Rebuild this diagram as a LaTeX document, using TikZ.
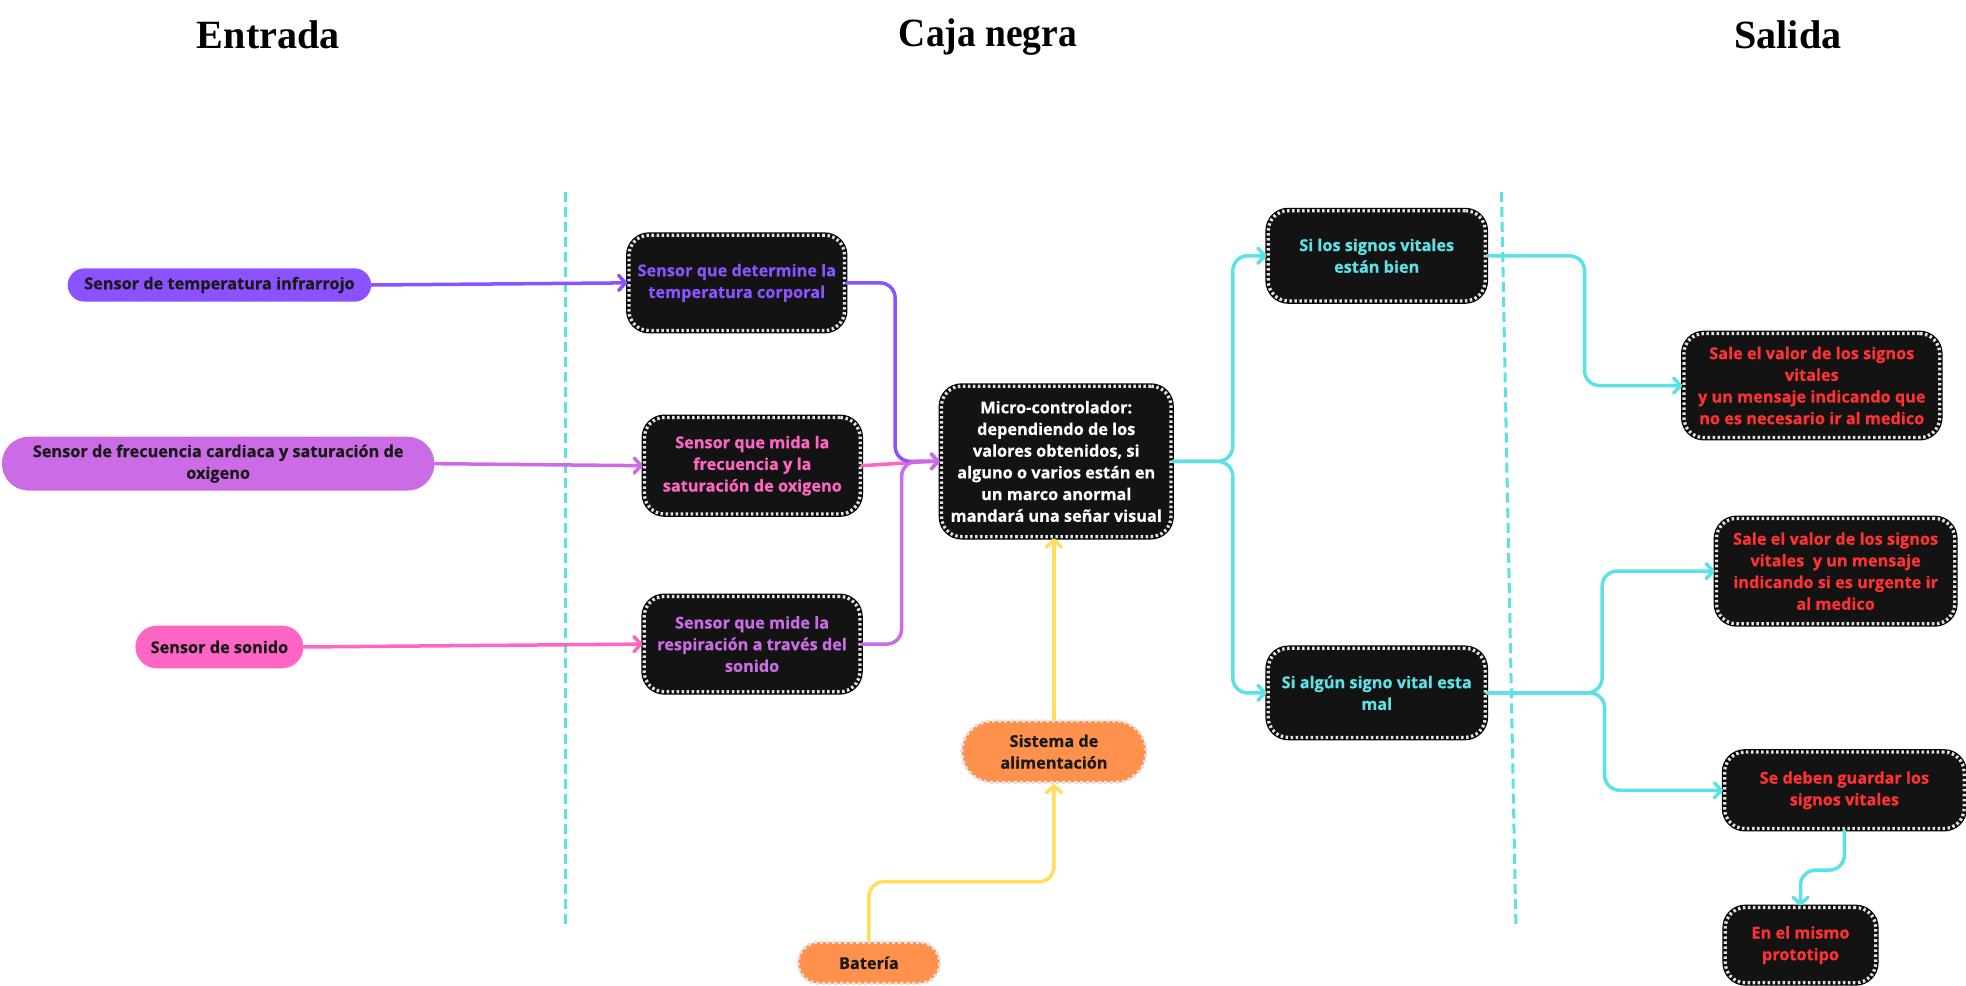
\documentclass[tikz,border=0pt]{standalone}
\usepackage{fontspec}
\usetikzlibrary{arrows.meta}
\newfontfamily\osans{Open Sans}[BoldFeatures={FakeBold=0.6}]
\newfontfamily\hdrfont{Liberation Serif}
\definecolor{dk}{HTML}{131313}
\definecolor{pur}{HTML}{8C52FF}
\definecolor{lav}{HTML}{CB6CE6}
\definecolor{pnk}{HTML}{FF66C4}
\definecolor{cyn}{HTML}{5CE1E6}
\definecolor{rd}{HTML}{FF3131}
\definecolor{orn}{HTML}{FF914D}
\definecolor{ylw}{HTML}{FFDE59}
\definecolor{dsh}{HTML}{E2E2E2}
\definecolor{txt}{HTML}{1A1A1A}
\tikzset{
  bodyfont/.style={font=\osans\bfseries\fontsize{13}{17.3}\selectfont},
  hdr/.style={font=\hdrfont\bfseries\fontsize{32}{36}\selectfont, anchor=base, inner sep=0pt},
  darkbox/.style={rectangle, rounded corners=16pt, fill=dk, draw=dsh, line width=2.6pt,
    dash pattern=on 2pt off 2pt, preaction={draw=black, solid, line width=4.6pt},
    inner sep=0pt, align=center, bodyfont},
  pill/.style={rectangle, rounded corners=#1, inner sep=0pt, align=center, bodyfont, text=txt},
  orbox/.style={rectangle, rounded corners=#1, fill=orn, draw=dsh, line width=2.6pt,
    dash pattern=on 2.4pt off 2.4pt, inner sep=0pt, align=center, bodyfont, text=txt},
  con/.style={draw=#1, line width=2.8pt, rounded corners=12pt, line cap=round,
    -{Straight Barb[length=5.5pt,width=12pt,round]}},
  conplain/.style={draw=#1, line width=2.8pt, rounded corners=12pt, line cap=round},
  sep/.style={draw=cyn, line width=2.4pt, dash pattern=on 8pt off 4pt},
}
\begin{document}
\begin{tikzpicture}[x=1pt,y=-1pt]
\useasboundingbox (0,0) rectangle (1568,785.6);

% headers
\node[hdr] (h1) at (214,39) {Entrada};
\node[hdr] (h2) at (788,36.7) {\scalebox{0.935}[1]{Caja negra}};
\node[hdr] (h3) at (1426,39) {Salida};

% separators
\coordinate (s1a) at (451,153);
\coordinate (s1b) at (451,737);
\coordinate (s2a) at (1197.5,153);
\coordinate (s2b) at (1209,737);
\draw[sep] (s1a) -- (s1b);
\draw[sep] (s2a) -- (s2b);

% input pills
\node[pill=13.3pt, fill=pur, minimum width=242pt, minimum height=26.6pt] (tempinf) at (175,227.3) {Sensor de temperatura infrarrojo};
\node[pill=21.5pt, fill=lav, minimum width=345pt, minimum height=43pt] (freq) at (174,369.8) {Sensor de frecuencia cardiaca y saturación de\\oxigeno};
\node[pill=17pt, fill=pnk, minimum width=134pt, minimum height=34pt] (sonido) at (175,516) {Sensor de sonido};

% black box
\node[darkbox, text=pur, minimum width=172pt, minimum height=76pt] (box1) at (587.6,225.6) {Sensor que determine la\\temperatura corporal};
\node[darkbox, text=pnk, minimum width=172pt, minimum height=77pt] (box2) at (600,371.4) {Sensor que mida la\\frecuencia y la\\saturación de oxigeno};
\node[darkbox, text=lav, minimum width=172pt, minimum height=76pt] (box3) at (599.8,513.7) {Sensor que mide la\\respiración a través del\\sonido};
\node[darkbox, text=white, minimum width=183pt, minimum height=120pt] (micro) at (842.4,368) {Micro-controlador:\\dependiendo de los\\valores obtenidos, si\\alguno o varios están en\\un marco anormal\\mandará una señar visual};
\node[orbox=24.5pt, minimum width=147pt, minimum height=49pt] (sistema) at (840.6,599.5) {Sistema de\\alimentación};
\node[orbox=16.5pt, minimum width=113pt, minimum height=33pt] (bateria) at (693,767.9) {Batería};
\node[darkbox, text=cyn, minimum width=173pt, minimum height=72pt] (bien) at (1098,204) {Si los signos vitales\\están bien};
\node[darkbox, text=cyn, minimum width=173pt, minimum height=71pt] (mal) at (1098,552.6) {Si algún signo vital esta\\mal};

% outputs
\node[darkbox, text=rd, minimum width=204pt, minimum height=83pt] (out1) at (1445,307.5) {Sale el valor de los signos\\vitales\\y un mensaje indicando que\\no es necesario ir al medico};
\node[darkbox, text=rd, minimum width=190pt, minimum height=84pt] (out2) at (1464,455.5) {Sale el valor de los signos\\vitales\ \ y un mensaje\\indicando si es urgente ir\\al medico};
\node[darkbox, text=rd, minimum width=191pt, minimum height=61pt] (guardar) at (1471,630.3) {Se deben guardar los\\signos vitales};
\node[darkbox, text=rd, minimum width=120pt, minimum height=60pt] (mismo) at (1436,753.8) {En el mismo\\prototipo};

% connectors: inputs
\draw[con=pur] (tempinf.east) -- (box1.west);
\draw[con=lav] (freq.east) -- (box2.west);
\draw[con=pnk] (sonido.east) -- (box3.west);

% connectors: to micro
\draw[conplain=pnk] (box2.east) -- ([xshift=-8pt]micro.west);
\draw[con=pur] (box1.east) -- ++(39,0) |- (micro.west);
\draw[con=lav] (box3.east) -- ++(32,0) |- (micro.west);

% power
\coordinate (bj) at (693,703.2);
\draw[con=ylw] (bateria.north) -- (bj) -| (sistema.south);
\draw[con=ylw] (sistema.north) -- (sistema.north |- micro.south);

% micro to decisions
\draw[con=cyn] (micro.east) -- ++(48,0) |- (bien.west);
\draw[con=cyn] (micro.east) -- ++(48,0) |- (mal.west);

% decisions to outputs
\draw[con=cyn] (bien.east) -- ++(78,0) |- (out1.west);
\draw[con=cyn] (mal.east) -- ++(92,0) |- (out2.west);
\draw[con=cyn] (mal.east) -- ++(94,0) |- (guardar.west);
\coordinate (gm) at (1471,694);
\draw[con=cyn] (guardar.south) -- (gm) -| (mismo.north);
\end{tikzpicture}
\end{document}
